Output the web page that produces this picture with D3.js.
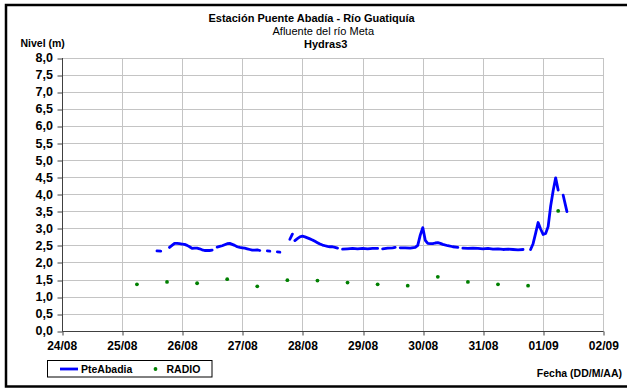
<!DOCTYPE html>
<html><head><meta charset="utf-8">
<script src="https://cdn.jsdelivr.net/npm/d3@7"></script>
<style>
html,body{margin:0;padding:0;background:#fff;}
svg{display:block;font-family:"Liberation Sans",Arial,sans-serif;}
</style></head><body>
<svg id="chart" width="627" height="388"></svg>
<script>
// ---------- data ----------
const chartTitle = "Estación Puente Abadía - Río Guatiquía";
const chartSubtitle = "Afluente del río Meta";
const chartSubtitle2 = "Hydras3";
const yAxisTitle = "Nivel (m)";
const xAxisTitle = "Fecha (DD/M/AA)";
const seriesNames = ["PteAbadia", "RADIO"];

const xTickLabels = ["24/08","25/08","26/08","27/08","28/08","29/08","30/08","31/08","01/09","02/09"];
const yTickValues = [0,0.5,1,1.5,2,2.5,3,3.5,4,4.5,5,5.5,6,6.5,7,7.5,8];

// PteAbadia level (m); null = gap in record
const levelTimes = [
 "25/08 14:00","25/08 15:30","25/08 17:00",
 "25/08 19:00","25/08 20:00","25/08 21:00","25/08 22:00","25/08 23:00","26/08 00:00","26/08 01:00","26/08 02:00","26/08 03:00","26/08 04:00","26/08 05:00","26/08 06:00","26/08 07:00","26/08 08:00","26/08 09:00","26/08 10:00","26/08 11:00","26/08 12:00","26/08 13:00",
 "26/08 14:00","26/08 15:00","26/08 16:00","26/08 17:00","26/08 18:00","26/08 19:00","26/08 20:00","26/08 21:00","26/08 22:00","26/08 23:00","27/08 00:00","27/08 01:00","27/08 02:00","27/08 03:00","27/08 04:00","27/08 05:00","27/08 06:00","27/08 07:00","27/08 08:00",
 "27/08 10:00","27/08 11:00","27/08 12:00",
 "27/08 14:00","27/08 15:00","27/08 16:00",
 "27/08 19:00","27/08 20:00","27/08 20:30",
 "27/08 21:00","27/08 22:00","27/08 23:00","28/08 00:00","28/08 01:00","28/08 02:00","28/08 03:00","28/08 04:00","28/08 05:00","28/08 06:00","28/08 07:00","28/08 08:00","28/08 09:00","28/08 10:00","28/08 11:00","28/08 12:00","28/08 13:00","28/08 14:00","28/08 15:00",
 "28/08 16:00","28/08 18:00","28/08 20:00","28/08 22:00","29/08 00:00","29/08 02:00","29/08 04:00","29/08 06:00","29/08 07:00",
 "29/08 08:00","29/08 10:00","29/08 12:00","29/08 13:00","29/08 14:00",
 "29/08 15:00","29/08 17:00","29/08 19:00","29/08 21:00","29/08 22:00","29/08 23:00","30/08 00:00","30/08 01:00","30/08 02:00","30/08 03:00","30/08 04:00","30/08 05:00","30/08 06:00","30/08 07:00","30/08 08:00","30/08 10:00","30/08 12:00","30/08 14:00","30/08 15:00",
 "30/08 16:00","30/08 18:00","30/08 20:00","30/08 22:00","31/08 00:00","31/08 02:00","31/08 04:00","31/08 06:00","31/08 08:00","31/08 10:00","31/08 12:00","31/08 14:00","31/08 16:00","31/08 17:00",
 "31/08 19:00","31/08 20:00","31/08 21:00","31/08 22:00","31/08 23:00","01/09 00:00","01/09 01:00","01/09 02:00","01/09 03:00","01/09 04:00","01/09 05:00","01/09 06:00","01/09 07:00",
 "01/09 08:00","01/09 09:30"
];
const levelValues = [
 2.34,2.33,null,
 2.44,2.50,2.56,2.56,2.55,2.54,2.53,2.50,2.46,2.41,2.42,2.42,2.40,2.37,2.35,2.35,2.35,2.36,null,
 2.45,2.47,2.49,2.52,2.55,2.56,2.53,2.50,2.46,2.44,2.43,2.42,2.40,2.38,2.36,2.36,2.37,2.35,null,
 2.34,2.33,null,
 2.31,2.30,null,
 2.68,2.83,null,
 2.64,2.70,2.75,2.77,2.75,2.72,2.69,2.66,2.62,2.58,2.54,2.51,2.49,2.47,2.46,2.46,2.44,2.42,null,
 2.39,2.40,2.41,2.40,2.41,2.40,2.41,2.41,null,
 2.40,2.42,2.43,2.44,null,
 2.43,2.43,2.42,2.44,2.50,2.80,3.02,2.65,2.56,2.55,2.55,2.57,2.58,2.56,2.53,2.49,2.46,2.44,null,
 2.42,2.41,2.42,2.41,2.40,2.41,2.39,2.40,2.38,2.39,2.38,2.37,2.38,null,
 2.38,2.55,2.85,3.17,2.98,2.82,2.85,3.05,3.65,4.10,4.48,4.12,null,
 3.97,3.49
];

// RADIO readings (m)
const radioTimes = ["25/08 06:00","25/08 18:00","26/08 06:00","26/08 18:00","27/08 06:00","27/08 18:00","28/08 06:00","28/08 18:00","29/08 06:00","29/08 18:00","30/08 06:00","30/08 18:00","31/08 06:00","31/08 18:00","01/09 06:00"];
const radioValues = [1.36,1.43,1.39,1.51,1.30,1.48,1.47,1.41,1.36,1.32,1.58,1.43,1.36,1.32,3.51];

// ---------- drawing ----------
const parse = d3.utcParse("%d/%m %H:%M");
const fmtY = d3.formatLocale({decimal:",",thousands:".",grouping:[3],currency:["",""]}).format(".1f");

const svg = d3.select("#chart");
const W = 627, H = 388;
const plot = {left:61.7, right:603.3, top:57.7, bottom:330.7};

const xDates = xTickLabels.map(s => parse(s + " 00:00"));
const x = d3.scaleUtc().domain([xDates[0], xDates[xDates.length-1]]).range([plot.left, plot.right]);
const y = d3.scaleLinear().domain([0, 8]).range([plot.bottom, plot.top]);

const px = v => Math.round(v) + 0.5;

// background
svg.append("rect").attr("x",0).attr("y",0).attr("width",W).attr("height",H).attr("fill","#fff");

// grid
const grid = svg.append("g").attr("stroke","#c4c4c4").attr("stroke-width",1).attr("shape-rendering","crispEdges");
yTickValues.forEach(v => {
  grid.append("line").attr("x1",px(plot.left)).attr("x2",px(plot.right))
    .attr("y1",px(y(v))).attr("y2",px(y(v)));
});
xDates.forEach(d => {
  grid.append("line").attr("x1",px(x(d))).attr("x2",px(x(d)))
    .attr("y1",px(plot.top)).attr("y2",px(plot.bottom));
});

// axes
const yAxis = d3.axisLeft(y).tickValues(yTickValues).tickFormat(fmtY).tickSize(5).tickPadding(4);
const gy = svg.append("g").attr("transform",`translate(${px(plot.left)},0)`).call(yAxis);
gy.select(".domain").attr("stroke","#404040").attr("d",`M0,${px(plot.top)-0.5}V${px(plot.bottom)}`);
gy.selectAll(".tick line").attr("stroke","#404040").attr("transform",function(d){return `translate(0,${px(y(d))-y(d)})`;});
gy.selectAll(".tick text").attr("font-size","12.5px").attr("font-weight","bold").attr("fill","#000")
  .attr("font-family","'Liberation Sans',Arial,sans-serif").attr("x",-9.5);

const xAxis = d3.axisBottom(x).tickValues(xDates).tickFormat((d,i)=>xTickLabels[i]).tickSize(4).tickPadding(6);
const gx = svg.append("g").attr("transform",`translate(0,${px(plot.bottom)})`).call(xAxis);
gx.select(".domain").attr("stroke","#404040").attr("d",`M${px(plot.left)},0H${px(plot.right)}`);
gx.selectAll(".tick line").attr("stroke","#404040").attr("transform",function(d){return `translate(${px(x(d))-x(d)},0)`;});
gx.selectAll(".tick text").attr("font-size","12px").attr("font-weight","bold").attr("fill","#000")
  .attr("font-family","'Liberation Sans',Arial,sans-serif");

// series
const levelData = levelTimes.map((t,i)=>({t:parse(t), v:levelValues[i]}));
const line = d3.line().defined(d=>d.v!=null).x(d=>x(d.t)).y(d=>y(d.v));
svg.append("path").datum(levelData).attr("d",line).attr("fill","none")
  .attr("stroke","#0000ff").attr("stroke-width",2.8).attr("stroke-linecap","round").attr("stroke-linejoin","round");

const radioData = radioTimes.map((t,i)=>({t:parse(t), v:radioValues[i]}));
svg.append("g").selectAll("circle").data(radioData).join("circle")
  .attr("cx",d=>x(d.t)).attr("cy",d=>y(d.v)).attr("r",1.9).attr("fill","#008000");

// titles
const tg = svg.append("g").attr("fill","#000");
tg.append("text").attr("x",208.5).attr("y",21.5).attr("font-size","11px").attr("font-weight","bold").text(chartTitle);
tg.append("text").attr("x",272.5).attr("y",34.5).attr("font-size","11px").text(chartSubtitle);
tg.append("text").attr("x",304).attr("y",47.5).attr("font-size","11px").attr("font-weight","bold").text(chartSubtitle2);
tg.append("text").attr("x",20.5).attr("y",46.5).attr("font-size","10.5px").attr("font-weight","bold").text(yAxisTitle);
tg.append("text").attr("x",622).attr("y",376.5).attr("text-anchor","end").attr("font-size","10.5px").attr("font-weight","bold").text(xAxisTitle);

// legend
const lg = svg.append("g");
lg.append("rect").attr("x",47.5).attr("y",360.5).attr("width",164.5).attr("height",16.5)
  .attr("fill","#fff").attr("stroke","#000").attr("stroke-width",1);
lg.append("line").attr("x1",60).attr("x2",78).attr("y1",369).attr("y2",369)
  .attr("stroke","#0000ff").attr("stroke-width",2.8);
lg.append("text").attr("x",81).attr("y",372.8).attr("font-size","10.5px").attr("font-weight","bold").text(seriesNames[0]);
lg.append("circle").attr("cx",155.5).attr("cy",369).attr("r",1.9).attr("fill","#008000");
lg.append("text").attr("x",166.5).attr("y",372.8).attr("font-size","10.5px").attr("font-weight","bold").text(seriesNames[1]);

// outer border
svg.append("rect").attr("x",6).attr("y",5).attr("width",700).attr("height",381.5)
  .attr("fill","none").attr("stroke","#000").attr("stroke-width",2.5);
</script>
</body></html>
